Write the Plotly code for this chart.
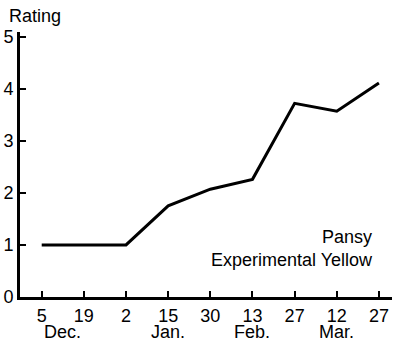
import plotly.graph_objects as go

day_labels = ["5", "19", "2", "15", "30", "13", "27", "12", "27"]
month_labels = ["Dec.", "Jan.", "Feb.", "Mar."]
month_positions = [0.5, 3, 5, 7]
ratings = [1.0, 1.0, 1.0, 1.75, 2.07, 2.26, 3.72, 3.57, 4.11]
y_ticks = [0, 1, 2, 3, 4, 5]

x_idx = list(range(len(day_labels)))
FONT = "Liberation Sans"

fig = go.Figure()
fig.add_trace(go.Scatter(
    x=x_idx, y=ratings, mode="lines",
    line=dict(color="black", width=3),
    hoverinfo="skip", showlegend=False,
))

fig.update_layout(
    width=394, height=341,
    margin=dict(l=20, r=2, t=32, b=44, autoexpand=False),
    paper_bgcolor="white", plot_bgcolor="white",
    font=dict(family=FONT, size=18, color="black"),
    showlegend=False,
)
fig.update_xaxes(
    range=[-0.515, 8.31], automargin=False,
    tickmode="array", tickvals=x_idx, ticktext=day_labels,
    ticks="inside", ticklen=6, tickwidth=2, tickcolor="black",
    showline=True, linecolor="black", linewidth=3,
    showgrid=False, zeroline=False,
    tickfont=dict(family=FONT, size=18, color="black"),
)
fig.update_yaxes(
    range=[0, 5.09], automargin=False,
    tickmode="array", tickvals=y_ticks, ticktext=[str(v) for v in y_ticks],
    ticks="inside", ticklen=6, tickwidth=2, tickcolor="black",
    showline=True, linecolor="black", linewidth=3,
    showgrid=False, zeroline=False,
    tickfont=dict(family=FONT, size=18, color="black"),
)

for lab, pos in zip(month_labels, month_positions):
    fig.add_annotation(
        x=pos, xref="x", y=0, yref="paper", yshift=-35,
        text=lab, showarrow=False, xanchor="center", yanchor="middle",
        font=dict(family=FONT, size=18, color="black"),
    )

fig.add_annotation(
    x=0, xref="paper", xshift=-13, y=1, yref="paper", yshift=16,
    text="Rating", showarrow=False, xanchor="left", yanchor="middle",
    font=dict(family=FONT, size=18, color="black"),
)
fig.add_annotation(
    x=0.955, xref="paper", y=0.182, yref="paper",
    text="Pansy<br>Experimental Yellow", align="right",
    showarrow=False, xanchor="right", yanchor="middle",
    font=dict(family=FONT, size=18, color="black"),
)

fig.write_html(
    "out.html",
    config={"displayModeBar": False},
    post_script="document.body.style.margin='0';document.body.style.overflow='hidden';",
)
